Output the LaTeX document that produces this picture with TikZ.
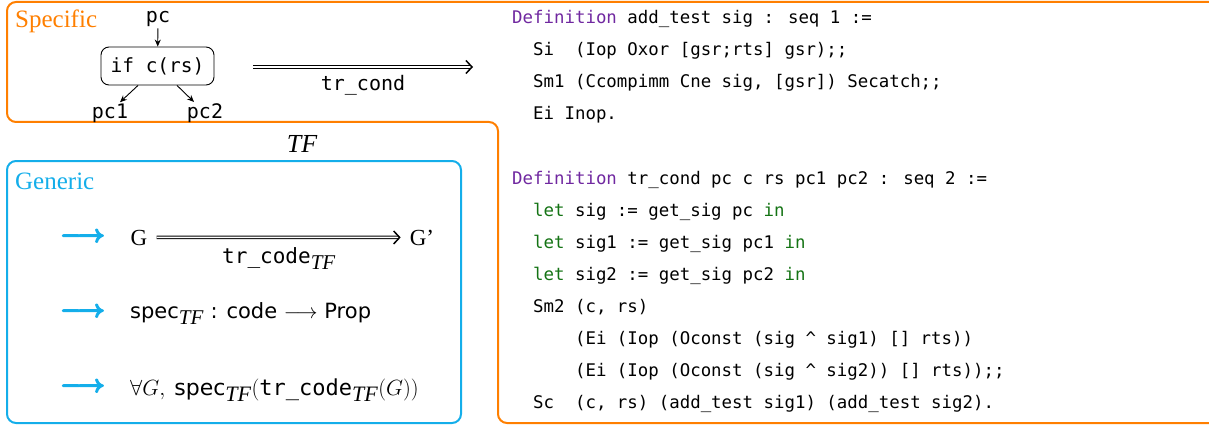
\RequirePackage{fix-cm}
\documentclass[tikz,border=0pt]{standalone}
\usepackage{amsmath}
\usepackage{fontspec}
\setmainfont{Liberation Serif}
\newfontfamily\monofnt{DejaVu Sans Mono}
\newfontfamily\sansfnt{DejaVu Sans}
\usetikzlibrary{arrows.meta}
\definecolor{sporange}{RGB}{255,127,0}
\definecolor{genblue}{RGB}{20,174,234}
\definecolor{kwpurple}{RGB}{112,40,160}
\definecolor{kwgreen}{RGB}{20,115,20}
\newcommand\kwdef{\textcolor{kwpurple}{Definition}}
\newcommand\kwlet{\textcolor{kwgreen}{let}}
\newcommand\kwin{\textcolor{kwgreen}{in}}
\newcommand\tfs{_{\mbox{\rmfamily\itshape TF}}}
\newcommand\fatarr{\special{pdf:literal direct 2 Tr 1.5 w 1 j}$\longrightarrow$\special{pdf:literal direct 0 Tr}}
\begin{document}
\begin{tikzpicture}[x=1pt,y=-1pt,
  lbl/.style={inner sep=0pt, font=\monofnt\fontsize{20}{24}\selectfont},
  codeln/.style={anchor=base west, inner sep=0pt, font=\monofnt\fontsize{17.4}{20}\selectfont},
  ttl/.style={anchor=base west, inner sep=0pt, font=\fontsize{25}{30}\selectfont},
  dbl/.style={double, double distance=1.5pt, line width=1pt,
    -{Straight Barb[length=6pt,width=13pt,line width=1.5pt]}},
  sarr/.style={line width=0.9pt, -{Stealth[length=7pt,width=6pt]}},
  barr/.style={text=genblue, inner sep=0pt, font=\fontsize{24}{28}\selectfont\boldmath},
  gen/.style={anchor=base west, inner sep=0pt, font=\sansfnt\fontsize{21}{25}\selectfont}
]
\useasboundingbox (0,0) rectangle (1209,425);

% frames
\draw[sporange, line width=2pt, rounded corners=9pt]
  (1240,2) -- (7,2) -- (7,122) -- (498,122) -- (498,423) -- (1240,423);
\draw[genblue, line width=2pt, rounded corners=9pt] (7,161) rectangle (461,423);

% titles
\node[ttl, text=sporange] (spec) at (15,28) {Specific};
\node[ttl, text=genblue] (gener) at (15,189) {Generic};
\node[anchor=base, inner sep=0pt, font=\fontsize{26}{30}\selectfont\itshape] (tf) at (302,152) {TF};

% specific diagram
\node[lbl, anchor=base, inner sep=1pt] (pc) at (158,23) {pc};
\node[lbl, draw, line width=0.9pt, rounded corners=8pt, minimum width=113pt, minimum height=38pt,
      font=\monofnt\fontsize{19.5}{23}\selectfont] (cond) at (157.5,66) {if c(rs)};
\node[lbl, anchor=base, inner sep=1pt] (pc1) at (110,118) {pc1};
\node[lbl, anchor=base, inner sep=1pt] (pc2) at (205,118) {pc2};
\draw[sarr] (pc) -- (cond);
\draw[sarr] ([xshift=-19.5pt]cond.south) -- ([xshift=10pt]pc1.north);
\draw[sarr] ([xshift=19.5pt]cond.south) -- ([xshift=-11pt]pc2.north);
\coordinate (t1) at (253,67);
\coordinate (t2) at (473,67);
\draw[dbl] (t1) -- (t2);
\node[lbl, anchor=base] (trc) at (363,91) {tr\_cond};

% generic
\node[barr] (b1) at (82.5,237) {\fatarr};
\node[barr] (b2) at (82.5,312) {\fatarr};
\node[barr] (b3) at (82.5,387) {\fatarr};
\node[anchor=base, inner sep=0pt, font=\fontsize{23}{28}\selectfont] (g) at (139,245) {G};
\node[anchor=base, inner sep=0pt, font=\fontsize{23}{28}\selectfont] (g2) at (422,245) {G’};
\draw[dbl] ([xshift=9pt]g.east) -- ([xshift=-9pt]g2.west);
\node[gen, anchor=base] (trcode) at (279,263) {\monofnt tr\_code$\tfs$};
\node[gen] (specl) at (130,318) {spec$\tfs$ : code $\longrightarrow$ Prop};
\node[gen, font=\sansfnt\fontsize{22}{26}\selectfont] (foral) at (130,395)
  {$\forall G,$\hspace{9pt}spec$\tfs$$($\monofnt tr\_code$\tfs$$(G))$};

% code
\def\adv{10.475}
\node[codeln] (c0) at (512,24) {\kwdef{} add\_test sig : seq 1 :=};
\node[codeln] (c1) at (512+2*\adv,56) {Si~~(Iop Oxor [gsr;rts] gsr);;};
\node[codeln] (c2) at (512+2*\adv,88) {Sm1 (Ccompimm Cne sig, [gsr]) Secatch;;};
\node[codeln] (c3) at (512+2*\adv,120) {Ei Inop.};
\node[codeln] (c5) at (512,184) {\kwdef{} tr\_cond pc c rs pc1 pc2 : seq 2 :=};
\node[codeln] (c6) at (512+2*\adv,216) {\kwlet{} sig := get\_sig pc \kwin};
\node[codeln] (c7) at (512+2*\adv,248) {\kwlet{} sig1 := get\_sig pc1 \kwin};
\node[codeln] (c8) at (512+2*\adv,280) {\kwlet{} sig2 := get\_sig pc2 \kwin};
\node[codeln] (c9) at (512+2*\adv,312) {Sm2 (c, rs)};
\node[codeln] (c10) at (512+6*\adv,344) {(Ei (Iop (Oconst (sig \textasciicircum{} sig1) [] rts))};
\node[codeln] (c11) at (512+6*\adv,376) {(Ei (Iop (Oconst (sig \textasciicircum{} sig2)) [] rts));;};
\node[codeln] (c12) at (512+2*\adv,408) {Sc~~(c, rs) (add\_test sig1) (add\_test sig2).};
\end{tikzpicture}
\end{document}
